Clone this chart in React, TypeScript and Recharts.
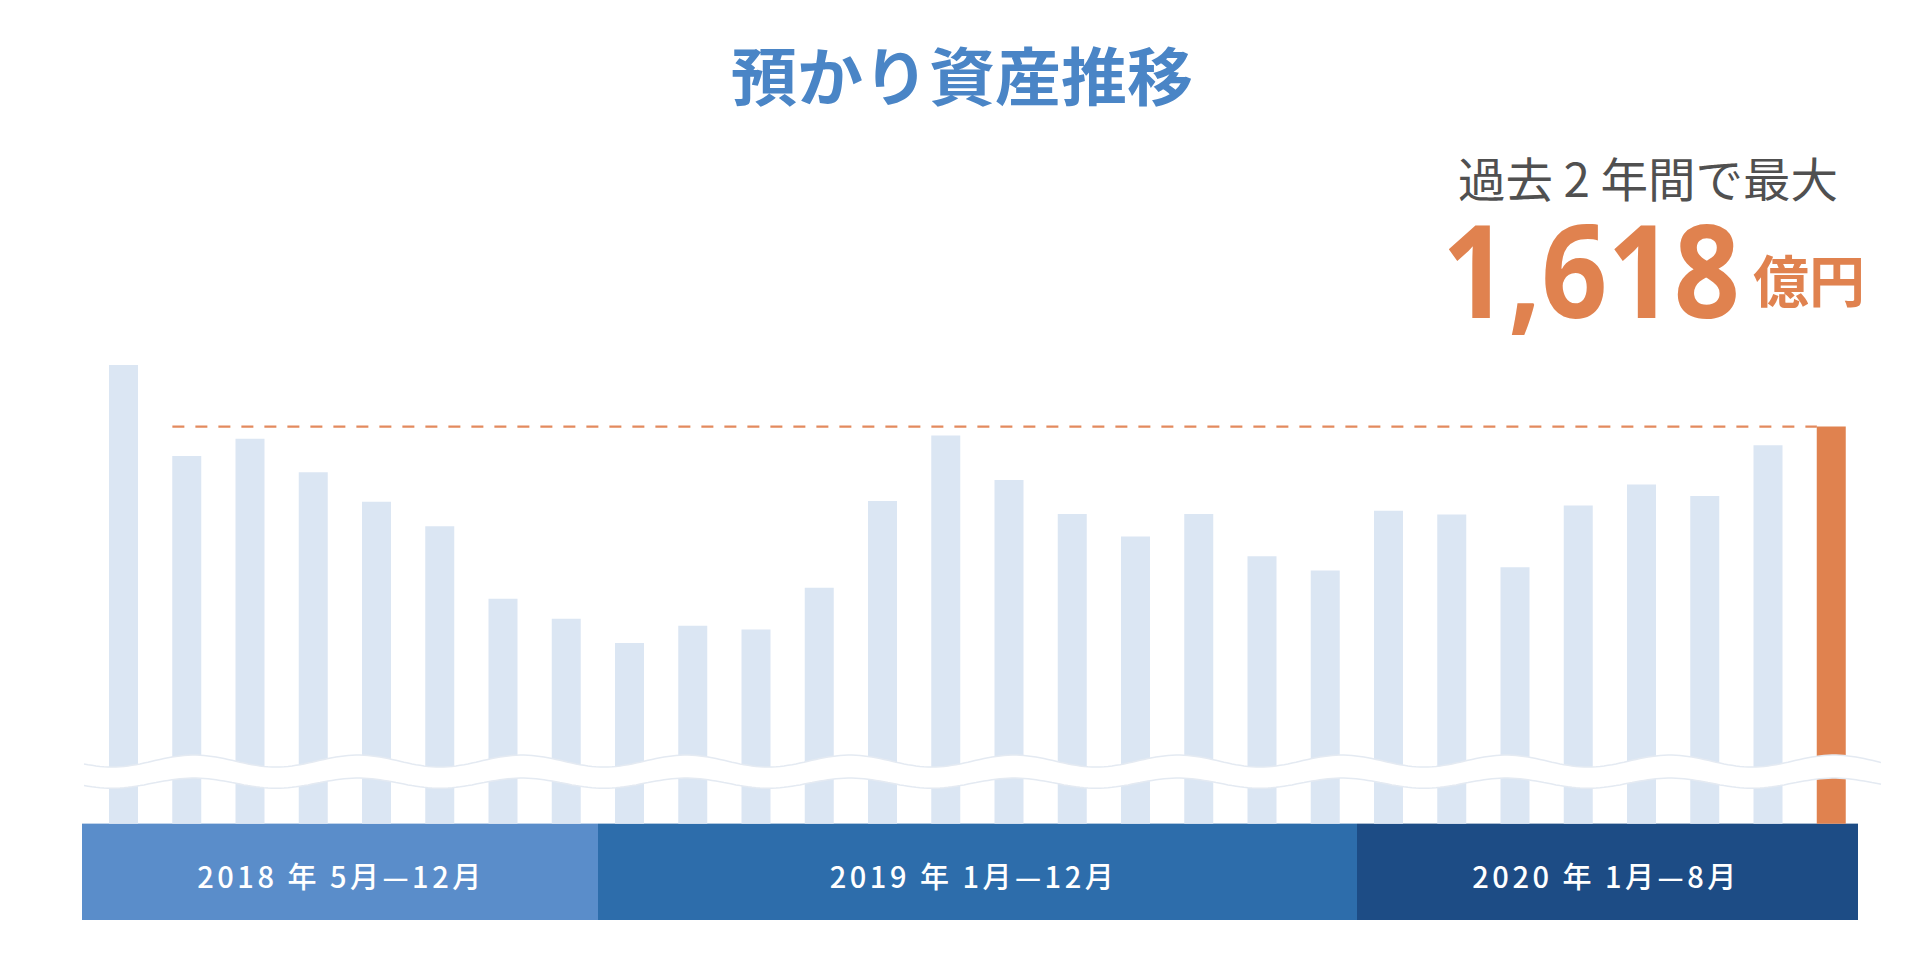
import { BarChart, Bar, XAxis, YAxis, Cell, ReferenceArea, ReferenceLine } from 'recharts';

// 預かり資産残高（億円）, 2018年5月〜2020年8月
const months = [
  '2018-05', '2018-06', '2018-07', '2018-08', '2018-09', '2018-10', '2018-11', '2018-12',
  '2019-01', '2019-02', '2019-03', '2019-04', '2019-05', '2019-06', '2019-07', '2019-08',
  '2019-09', '2019-10', '2019-11', '2019-12',
  '2020-01', '2020-02', '2020-03', '2020-04', '2020-05', '2020-06', '2020-07', '2020-08',
];
const assets = [
  1714, 1572, 1599, 1547, 1501, 1463, 1350, 1319,
  1281, 1308, 1302, 1367, 1502, 1604, 1535, 1482,
  1447, 1482, 1416, 1394,
  1487, 1481, 1399, 1495, 1528, 1510, 1589, 1618,
];

const periodLabels = ['2018 年 5月—12月', '2019 年 1月—12月', '2020 年 1月—8月'];
const periodStarts = ['2018-05', '2019-01', '2020-01'];
const periodEnds = ['2018-12', '2019-12', '2020-08'];

const peakValue = 1618;
const peakFrom = '2018-06';
const peakTo = '2020-08';

// the value axis is broken (wave), bars start from this value
const BASE = 1000;
const AXIS_MIN = 850;
const AXIS_MAX = 1815;

const W = 1904;
const H = 946;
const MARGIN = { top: 292, right: 49, bottom: 34, left: 84 };
const BAR_SIZE = 29;

const JP = "'Noto Sans CJK JP', 'Noto Sans', sans-serif";
const BAR_COLOR = '#dbe6f3';
const ORANGE = '#e0824f';
const PERIOD_COLORS = ['#5a8dca', '#2d6dab', '#1d4c85'];
// the period strip sticks out a little on the left and stops a bit short on the right
const STRIP_LEFT_OVERHANG = 10;
const STRIP_RIGHT_INSET = 5;

const data = months.map((m, i) => ({ month: m, range: [BASE, assets[i]] }));

const bandWidth = (W - MARGIN.left - MARGIN.right) / months.length;
const barInset = (bandWidth - BAR_SIZE) / 2;

function WaveBreak(props: any) {
  const { x, y, width, height } = props;
  const x0 = x - 8;
  const x1 = x + width + 18;
  const topC = y + height * 0.27;
  const botC = y + height * 0.8;
  const amp = 6;
  const period = 164;
  const crest = 842;
  const wave = (xx: number) => -amp * Math.cos((2 * Math.PI * (xx - crest)) / period);
  const xs: number[] = [];
  for (let xx = x0; xx < x1; xx += 4) xs.push(xx);
  xs.push(x1);
  const top = xs.map((xx) => `${xx.toFixed(1)} ${(topC + wave(xx)).toFixed(1)}`);
  const bot = xs.map((xx) => `${xx.toFixed(1)} ${(botC + wave(xx) * 0.85).toFixed(1)}`);
  const fillD = `M ${top.join(' L ')} L ${bot.slice().reverse().join(' L ')} Z`;
  return (
    <g>
      <path d={fillD} fill="#ffffff" />
      <path d={`M ${top.join(' L ')}`} fill="none" stroke="#e4eaf2" strokeWidth={1.5} />
      <path d={`M ${bot.join(' L ')}`} fill="none" stroke="#e4eaf2" strokeWidth={1.5} />
    </g>
  );
}

const periodStrip = (index: number) => (props: any) => {
  const { x, y, width, height, fill } = props;
  const left = index === 0 ? x - STRIP_LEFT_OVERHANG : x;
  const right = index === periodLabels.length - 1 ? x + width - STRIP_RIGHT_INSET : x + width;
  return <rect x={left} y={y} width={right - left} height={height} fill={fill} />;
};

function PeakLine(props: any) {
  const { x1, y1, x2, y2 } = props;
  return (
    <line
      x1={x1 + barInset}
      y1={y1}
      x2={x2 + barInset}
      y2={y2}
      stroke="#e38a5e"
      strokeWidth={2.2}
      strokeDasharray="12 11"
    />
  );
}

const periodLabel = (text: string) => (props: any) => {
  const vb = props.viewBox || {};
  return (
    <text
      x={vb.x + vb.width / 2 - 4}
      y={vb.y + vb.height / 2 + 16}
      textAnchor="middle"
      fill="#ffffff"
      fontFamily={JP}
      fontSize={29}
      fontWeight={500}
      letterSpacing={3.5}
    >
      {text}
    </text>
  );
};

export default function App() {
  return (
    <div style={{ position: 'relative', width: W, height: H, background: '#fff' }}>
      <BarChart width={W} height={H} data={data} margin={MARGIN}>
        <XAxis dataKey="month" hide />
        <YAxis hide domain={[AXIS_MIN, AXIS_MAX]} allowDataOverflow />
        {periodLabels.map((label, i) => (
          <ReferenceArea
            key={label}
            x1={periodStarts[i]}
            x2={periodEnds[i]}
            y1={AXIS_MIN}
            y2={BASE}
            fill={PERIOD_COLORS[i]}
            fillOpacity={1}
            stroke="none"
            shape={periodStrip(i)}
            label={periodLabel(label)}
          />
        ))}
        <Bar dataKey="range" barSize={BAR_SIZE} isAnimationActive={false}>
          {data.map((d, i) => (
            <Cell key={d.month} fill={i === data.length - 1 ? ORANGE : BAR_COLOR} />
          ))}
        </Bar>
        <ReferenceArea
          y1={1050}
          y2={1115}
          fillOpacity={0}
          shape={WaveBreak}
          zIndex={350}
        />
        <ReferenceLine
          segment={[
            { x: peakFrom, y: peakValue },
            { x: peakTo, y: peakValue },
          ]}
          position="start"
          shape={PeakLine}
        />
      </BarChart>
      <svg
        width={W}
        height={H}
        style={{ position: 'absolute', left: 0, top: 0, pointerEvents: 'none' }}
      >
        <text
          x={954}
          y={92}
          textAnchor="middle"
          fill="#4a85c6"
          fontFamily={JP}
          fontSize={63}
          fontWeight={700}
          textLength={462}
          lengthAdjust="spacingAndGlyphs"
        >
          預かり資産推移
        </text>
        <text
          x={1450}
          y={189}
          fill="#505050"
          fontFamily={JP}
          fontSize={47}
          fontWeight={400}
          textLength={380}
          lengthAdjust="spacingAndGlyphs"
        >
          過去 2 年間で最大
        </text>
        <text
          x={1434}
          y={310}
          fill={ORANGE}
          fontFamily="'Noto Sans', sans-serif"
          fontSize={130}
          fontWeight={700}
          textLength={298}
          lengthAdjust="spacingAndGlyphs"
        >
          1,618
        </text>
        <text
          x={1745}
          y={294}
          fill={ORANGE}
          fontFamily={JP}
          fontSize={56}
          fontWeight={700}
        >
          億円
        </text>
      </svg>
    </div>
  );
}
